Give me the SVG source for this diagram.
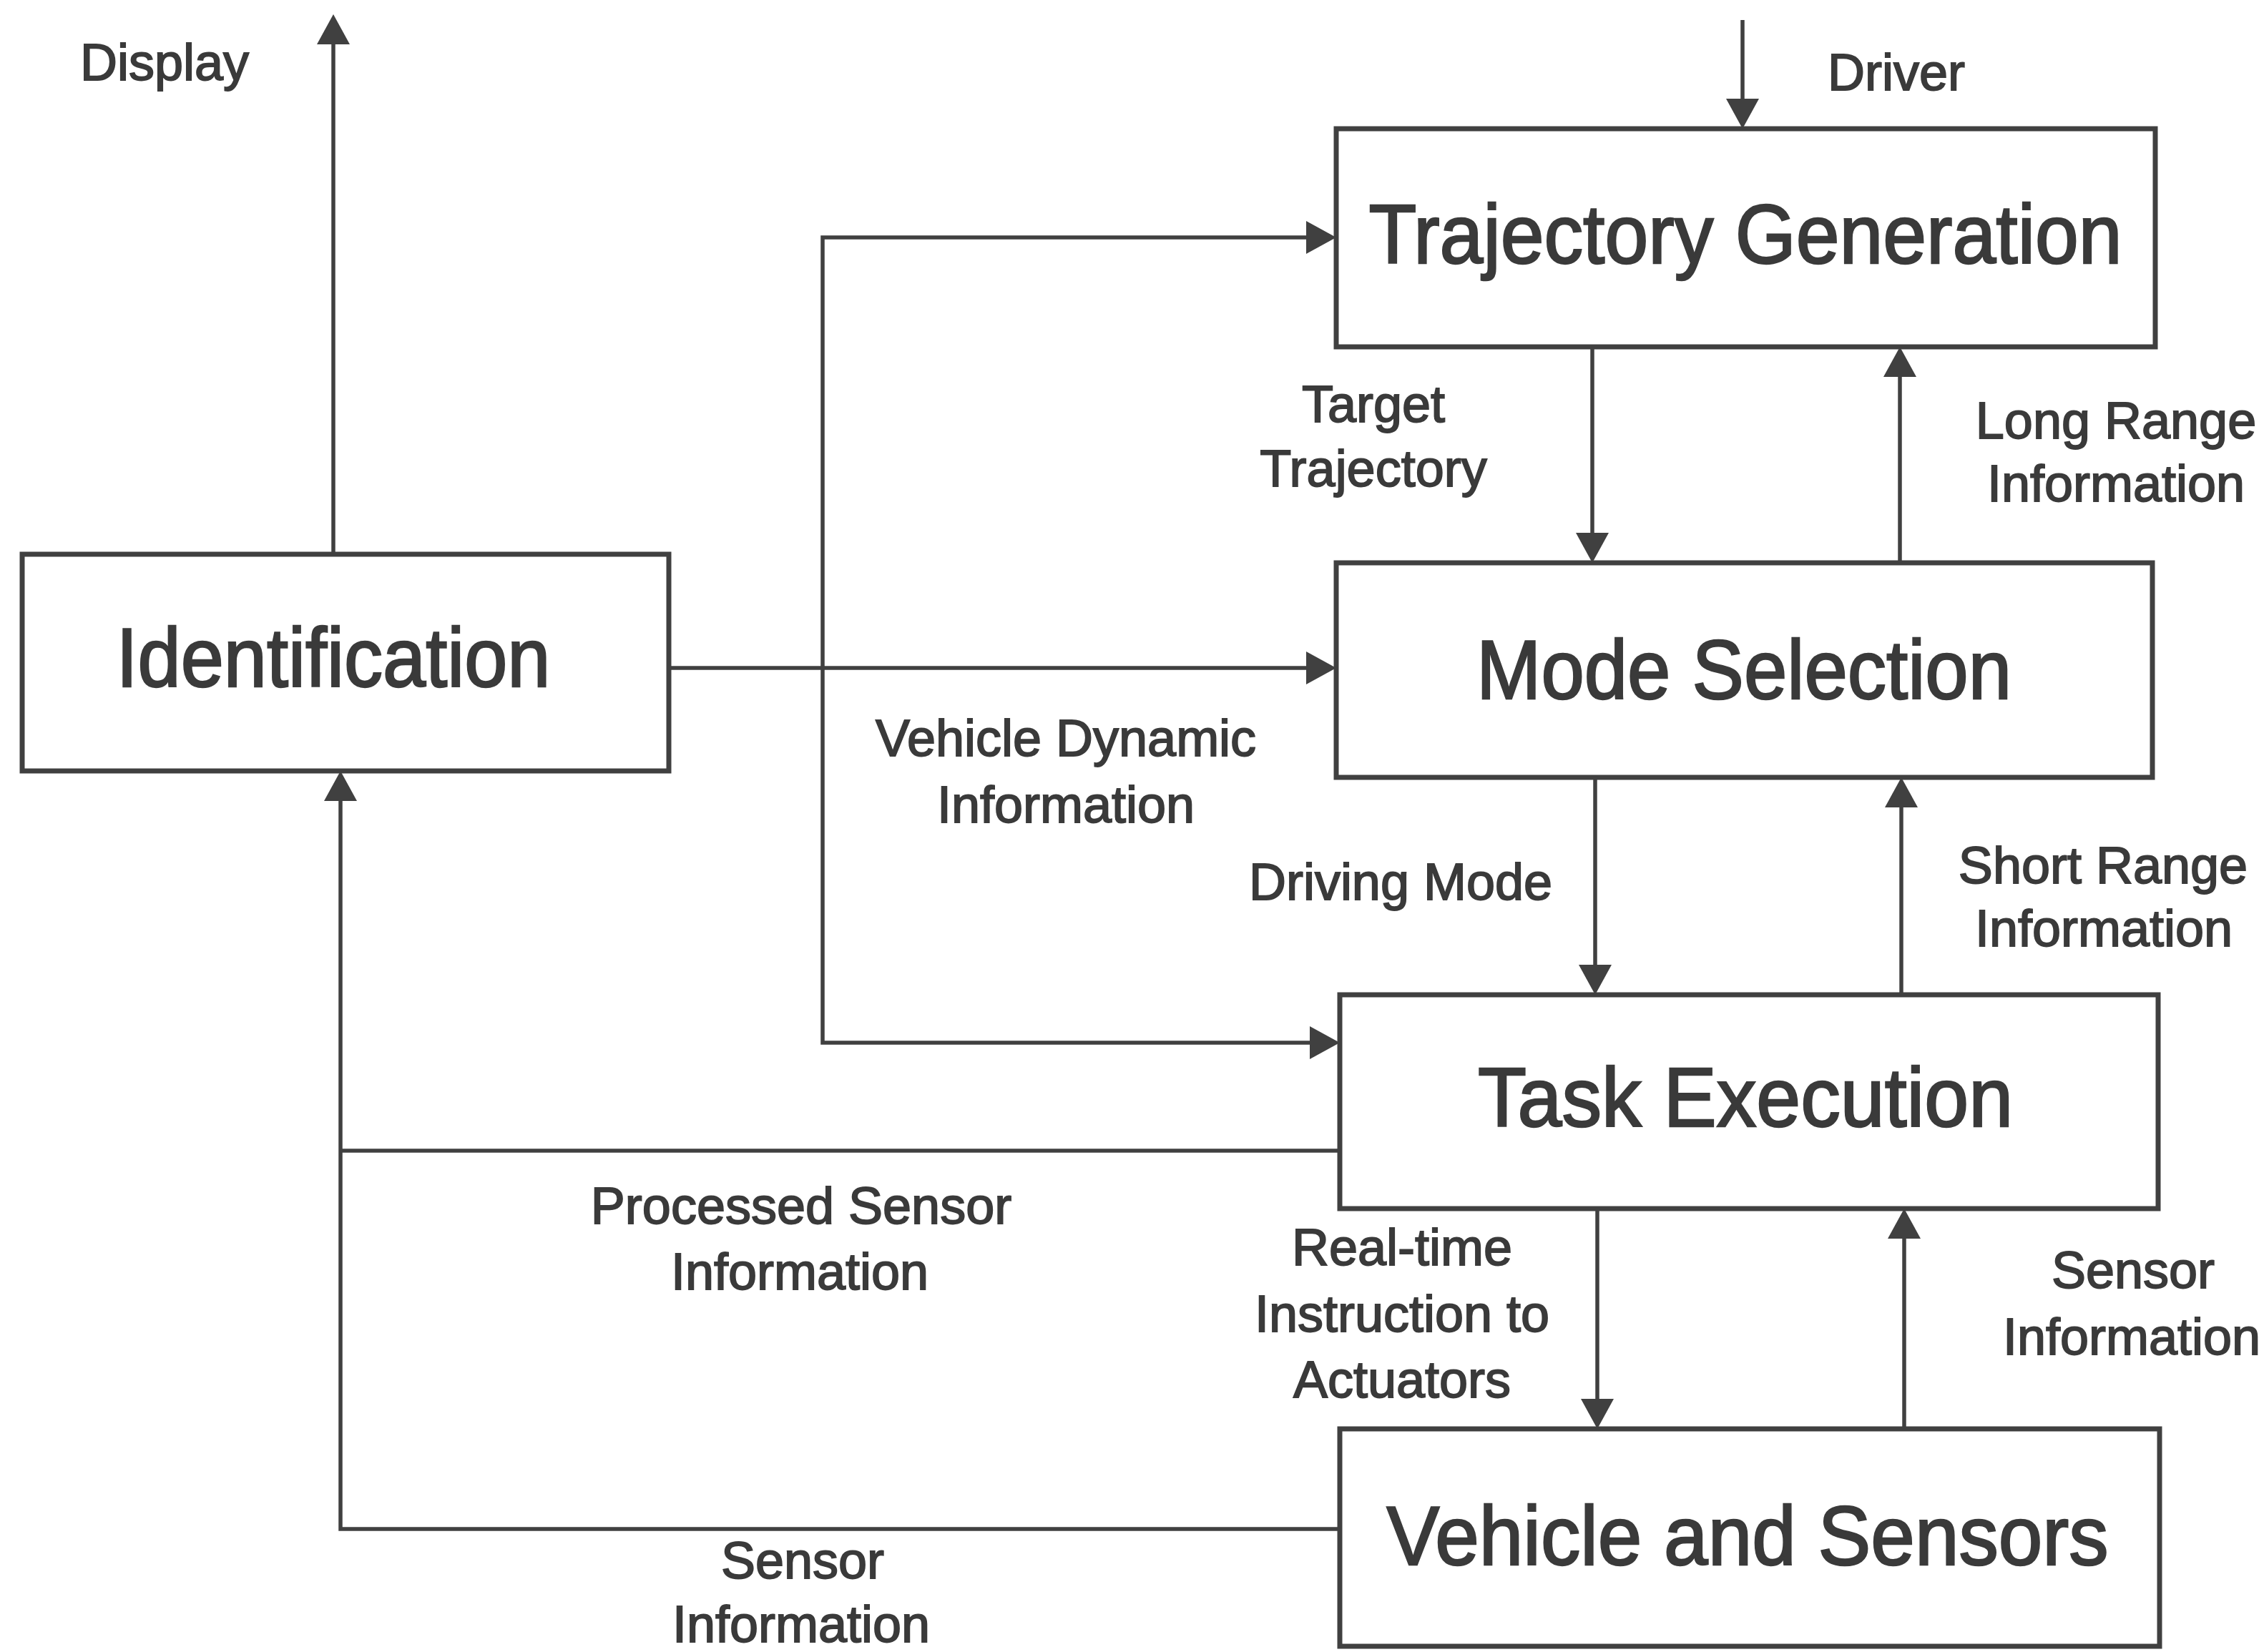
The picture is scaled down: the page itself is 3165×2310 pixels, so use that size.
<svg xmlns="http://www.w3.org/2000/svg" width="3165" height="2310" viewBox="0 0 3165 2310">
<style>
  .box { fill: #ffffff; stroke: #404040; stroke-width: 7; }
  .title { font-family: "Liberation Sans", Arial, sans-serif; font-size: 116px; fill: #3a3a3a; stroke: #3a3a3a; stroke-width: 2.5; text-anchor: middle; }
  .lbl { font-family: "Liberation Sans", Arial, sans-serif; font-size: 72px; fill: #3a3a3a; stroke: #3a3a3a; stroke-width: 1.8; text-anchor: middle; }
  .conn { fill: none; stroke: #404040; stroke-width: 5.5; }
  .arr { marker-end: url(#ah); }
</style>
<defs>
  <marker id="ah" viewBox="0 0 42 46" refX="36" refY="23" markerWidth="42" markerHeight="46" markerUnits="userSpaceOnUse" orient="auto">
    <path d="M0,0 L42,23 L0,46 z" fill="#404040"/>
  </marker>
</defs>
<rect width="3165" height="2310" fill="#ffffff"/>

<g id="connectors">
  <path class="conn arr" d="M466,775 V26"/>
  <path class="conn arr" d="M2436,28 V174"/>
  <path class="conn arr" d="M935,934 H1862"/>
  <path class="conn arr" d="M1150,934 V332 H1862"/>
  <path class="conn arr" d="M1150,934 V1458 H1867"/>
  <path class="conn arr" d="M2226,485 V781"/>
  <path class="conn arr" d="M2656,787 V491"/>
  <path class="conn arr" d="M2230,1087 V1385"/>
  <path class="conn arr" d="M2658,1391 V1093"/>
  <path class="conn arr" d="M2233,1690 V1992"/>
  <path class="conn arr" d="M2662,1998 V1696"/>
  <path class="conn" d="M1873,1609 H476"/>
  <path class="conn arr" d="M1873,2138 H476 V1084"/>
</g>

<g id="node-identification">
  <rect class="box" x="31" y="775" width="904" height="303"/>
  <text class="title" x="466" y="960" textLength="607" lengthAdjust="spacingAndGlyphs">Identification</text>
</g>
<g id="node-trajectory-generation">
  <rect class="box" x="1868" y="180" width="1145" height="305"/>
  <text class="title" x="2440" y="368" textLength="1053" lengthAdjust="spacingAndGlyphs">Trajectory Generation</text>
</g>
<g id="node-mode-selection">
  <rect class="box" x="1868" y="787" width="1141" height="300"/>
  <text class="title" x="2438" y="977" textLength="748" lengthAdjust="spacingAndGlyphs">Mode Selection</text>
</g>
<g id="node-task-execution">
  <rect class="box" x="1873" y="1391" width="1144" height="299"/>
  <text class="title" x="2440" y="1575" textLength="748" lengthAdjust="spacingAndGlyphs">Task Execution</text>
</g>
<g id="node-vehicle-sensors">
  <rect class="box" x="1873" y="1998" width="1146" height="304"/>
  <text class="title" x="2443" y="2188" textLength="1009" lengthAdjust="spacingAndGlyphs">Vehicle and Sensors</text>
</g>

<g id="labels">
  <text class="lbl" x="230" y="112">Display</text>
  <text class="lbl" x="2651" y="126">Driver</text>
  <text class="lbl" x="1920" y="590">Target</text>
  <text class="lbl" x="1920" y="680">Trajectory</text>
  <text class="lbl" x="2958" y="613">Long Range</text>
  <text class="lbl" x="2958" y="701">Information</text>
  <text class="lbl" x="1490" y="1057">Vehicle Dynamic</text>
  <text class="lbl" x="1490" y="1150">Information</text>
  <text class="lbl" x="1958" y="1258">Driving Mode</text>
  <text class="lbl" x="2940" y="1235">Short Range</text>
  <text class="lbl" x="2941" y="1323">Information</text>
  <text class="lbl" x="1960" y="1769">Real-time</text>
  <text class="lbl" x="1960" y="1862">Instruction to</text>
  <text class="lbl" x="1960" y="1954">Actuators</text>
  <text class="lbl" x="2982" y="1801">Sensor</text>
  <text class="lbl" x="2980" y="1894">Information</text>
  <text class="lbl" x="1120" y="1711">Processed Sensor</text>
  <text class="lbl" x="1118" y="1803">Information</text>
  <text class="lbl" x="1122" y="2207">Sensor</text>
  <text class="lbl" x="1120" y="2296">Information</text>
</g>
</svg>
